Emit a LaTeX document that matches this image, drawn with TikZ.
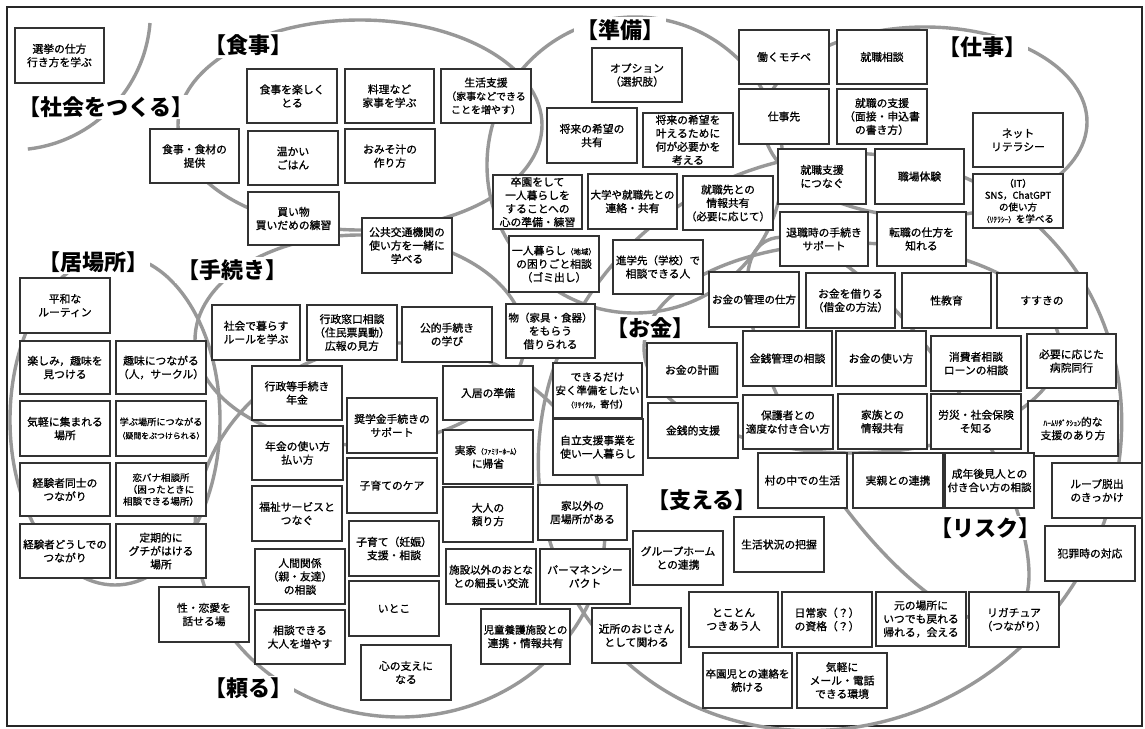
\documentclass[tikz,border=0pt]{standalone}
\usepackage{fontspec}
\setmainfont{Noto Sans CJK JP}
\newfontfamily\bxfont{Noto Sans CJK JP}[BoldFont={Noto Sans CJK JP},BoldFeatures={FakeBold=1.0}]
\definecolor{arcg}{RGB}{152,152,152}
\definecolor{boxc}{RGB}{50,50,50}
\newcommand\sm[1]{{\fontsize{7.5}{9}\selectfont #1}}
\newcommand\fs[2]{{\fontsize{#1}{13}\selectfont #2}}
\newcommand\bx[7][]{%
 \pgfmathsetmacro\mybw{#5-#3}\pgfmathsetmacro\mybh{#6-#4}%
 \pgfmathsetmacro\mybcx{(#3+#5)/2}\pgfmathsetmacro\mybcy{(#4+#6)/2}%
 \node[box,#1,minimum width=\mybw pt,minimum height=\mybh pt] (#2) at (\mybcx,\mybcy) {#7};}
\begin{document}
\begin{tikzpicture}[x=1pt,y=-1pt,
  arcst/.style={draw=arcg,line width=3.4pt},
  box/.style={draw=boxc,line width=1.2pt,fill=white,inner sep=0.5pt,align=center,
    font=\bxfont\bfseries\fontsize{10.8}{13.4}\selectfont},
  lab/.style={fill=white,inner sep=2pt,font=\fontsize{22}{24}\selectfont\bfseries}]
\useasboundingbox (0,0) rectangle (1145,728);
\fill[white] (0,0) rectangle (1145,728);
\draw[line width=1.2pt,black!85] (7,7) rectangle (1142,726);
% ellipses
\draw[arcst] (150,23) arc[start angle=-4.6,end angle=-83.6,radius=138pt];
\draw[arcst] (360,125) ellipse[x radius=182pt,y radius=105pt];
\draw[arcst] (635,165) ellipse[x radius=148pt,y radius=148pt];
\draw[arcst] (925,122) ellipse[x radius=162pt,y radius=95pt];
\draw[arcst] (115,420) ellipse[x radius=105pt,y radius=165pt];
\draw[arcst] (360,340) ellipse[x radius=165pt,y radius=105pt];
\draw[arcst] (400,530) ellipse[x radius=205pt,y radius=187pt];
\draw[arcst] (852,348) ellipse[x radius=208pt,y radius=105pt];
\draw[arcst,rotate around={40.6:(830,442)}] (830,442) ellipse[x radius=300pt,y radius=280pt];
\draw[arcst,rotate around={-56.5:(888,430)}] (888,430) ellipse[x radius=225pt,y radius=80pt];
% labels
\node[lab] (Lshakai) at (106,107) {【社会をつくる】};
\node[lab] (Lshoku) at (248,45) {【食事】};
\node[lab] (Ljunbi) at (620,30) {【準備】};
\node[lab] (Lshigoto) at (982,47) {【仕事】};
\node[lab] (Libasho) at (93,262) {【居場所】};
\node[lab] (Ltetsu) at (232,270) {【手続き】};
\node[lab] (Lokane) at (650,328) {【お金】};
\node[lab] (Lsasae) at (702,500) {【支える】};
\node[lab] (Lrisk) at (985,528) {【リスク】};
\node[lab] (Ltayoru) at (248,688) {【頼る】};
% boxes: name x1 y1 x2 y2
\bx{senkyo}{15}{28}{104}{83}{選挙の仕方\\行き方を学ぶ}
\bx{tanoshiku}{247}{69}{337}{123}{食事を楽しく\\とる}
\bx{ryouri}{345}{69}{434}{123}{料理など\\家事を学ぶ}
\bx{seikatsu}{441}{69}{531}{123}{生活支援\\\fs{10}{（家事などできる}\\\fs{10}{ことを増やす）}}
\bx{shokuzai}{150}{129}{239}{183}{食事・食材の\\提供}
\bx{atatakai}{248}{131}{338}{185}{温かい\\ごはん}
\bx{omiso}{345}{129}{435}{183}{おみそ汁の\\作り方}
\bx{kaimono}{248}{192}{339}{245}{買い物\\買いだめの練習}
\bx{koukyou}{362}{218}{452}{273}{公共交通機関の\\使い方を一緒に\\学べる}
\bx{option}{592}{48}{682}{102}{オプション\\（選択肢）}
\bx{kibou}{547}{108}{637}{163}{将来の希望の\\共有}
\bx{kanaeru}{643}{113}{733}{167}{将来の希望を\\叶えるために\\何が必要かを\\考える}
\bx{sotsuen}{493}{175}{582}{229}{卒園をして\\一人暮らしを\\することへの\\心の準備・練習}
\bx{daigaku}{588}{174}{677}{229}{\fs{10.5}{大学や就職先との}\\連絡・共有}
\bx{shushokusaki}{683}{176}{773}{230}{就職先との\\情報共有\\\fs{10.5}{（必要に応じて）}}
\bx{hitorigurashi}{509}{236}{599}{292}{一人暮らし\sm{（地域）}\\の困りごと相談\\（ゴミ出し）}
\bx{shingaku}{613}{240}{703}{294}{\fs{10.5}{進学先（学校）で}\\相談できる人}
\bx{mono}{506}{304}{595}{358}{\fs{10.5}{物（家具・食器）}\\をもらう\\借りられる}
\bx{motibe}{739}{30}{829}{84}{働くモチベ}
\bx{soudan}{837}{30}{927}{84}{就職相談}
\bx{shigotosaki}{739}{89}{829}{144}{仕事先}
\bx{shien}{837}{89}{927}{144}{就職の支援\\（面接・申込書\\の書き方）}
\bx{net}{973}{113}{1063}{167}{ネット\\リテラシー}
\bx[font=\bxfont\bfseries\fontsize{9.5}{11.8}\selectfont]{sns}{973}{174}{1063}{228}{（IT）\\SNS，ChatGPT\\の使い方\\\sm{（ﾘﾃﾗｼｰ）}を学べる}
\bx{tsunagu}{778}{149}{866}{204}{就職支援\\につなぐ}
\bx{taiken}{875}{149}{964}{204}{職場体験}
\bx{taishoku}{780}{212}{868}{266}{退職時の手続き\\サポート}
\bx{tenshoku}{877}{212}{966}{266}{転職の仕方を\\知れる}
\bx{kanri}{709}{272}{799}{327}{\fs{10.5}{お金の管理の仕方}}
\bx{kariru}{806}{273}{895}{328}{お金を借りる\\（借金の方法）}
\bx{seikyouiku}{902}{273}{991}{328}{性教育}
\bx{susukino}{997}{273}{1087}{328}{すすきの}
\bx{keikaku}{647}{343}{737}{397}{お金の計画}
\bx{kinsen}{743}{331}{832}{386}{金銭管理の相談}
\bx{tsukaikata}{836}{331}{926}{386}{お金の使い方}
\bx{shouhisha}{931}{336}{1021}{391}{消費者相談\\ローンの相談}
\bx{byouin}{1027}{334}{1116}{388}{必要に応じた\\病院同行}
\bx{yasuku}{553}{363}{642}{418}{できるだけ\\\fs{10.5}{安く準備をしたい}\\\sm{（ﾘｻｲｸﾙ，}\fs{9.5}{寄付）}}
\bx{kinsenteki}{648}{403}{738}{458}{金銭的支援}
\bx{hogosha}{743}{395}{833}{449}{保護者との\\\fs{10.5}{適度な付き合い方}}
\bx{kazoku}{838}{394}{927}{449}{家族との\\情報共有}
\bx{rousai}{931}{394}{1021}{449}{労災・社会保険\\そ知る}
\bx{harm}{1028}{401}{1118}{456}{\sm{ﾊｰﾑﾘﾀﾞｸｼｮﾝ}的な\\支援のあり方}
\bx{jiritsu}{553}{419}{643}{475}{自立支援事業を\\使い一人暮らし}
\bx{muranonaka}{758}{453}{847}{508}{村の中での生活}
\bx{jitsuoya}{853}{453}{943}{508}{実親との連携}
\bx{kouken}{945}{453}{1034}{508}{成年後見人との\\\fs{10.5}{付き合い方の相談}}
\bx{loop}{1052}{463}{1142}{518}{ループ脱出\\のきっかけ}
\bx{hanzai}{1045}{526}{1135}{581}{犯罪時の対応}
\bx{ligature}{969}{592}{1059}{647}{リガチュア\\（つながり）}
\bx{motono}{876}{592}{966}{646}{元の場所に\\いつでも戻れる\\帰れる，会える}
\bx{nichijou}{782}{592}{872}{647}{日常家（？）\\の資格（？）}
\bx{tokoton}{689}{592}{778}{647}{とことん\\つきあう人}
\bx{sotsuenji}{703}{653}{792}{708}{\fs{10.5}{卒園児との連絡を}\\続ける}
\bx{kigaru}{797}{653}{887}{708}{気軽に\\メール・電話\\できる環境}
\bx{haaku}{734}{517}{824}{572}{生活状況の把握}
\bx{group}{633}{531}{723}{585}{グループホーム\\との連携}
\bx{ieigai}{538}{485}{627}{540}{家以外の\\居場所がある}
\bx{permanency}{540}{549}{630}{604}{パーマネンシー\\パクト}
\bx{kinjo}{592}{608}{681}{663}{近所のおじさん\\として関わる}
\bx{jidou}{481}{609}{570}{664}{\fs{10.5}{児童養護施設との}\\連携・情報共有}
\bx{shisetsu}{446}{549}{536}{604}{\fs{10.5}{施設以外のおとな}\\との細長い交流}
\bx{otona}{443}{487}{533}{542}{大人の\\頼り方}
\bx{nyukyo}{443}{366}{533}{420}{入居の準備}
\bx{jikka}{443}{430}{533}{484}{実家\sm{（ﾌｧﾐﾘｰﾎｰﾑ）}\\に帰省}
\bx{kouteki}{402}{307}{492}{362}{公的手続き\\の学び}
\bx{gyousei}{307}{305}{397}{360}{行政窓口相談\\（住民票異動）\\広報の見方}
\bx{rule}{212}{305}{300}{360}{社会で暮らす\\ルールを学ぶ}
\bx{nenkin}{252}{366}{342}{420}{行政等手続き\\年金}
\bx{shougaku}{347}{398}{437}{453}{奨学金手続きの\\サポート}
\bx{nenkintsukai}{252}{426}{343}{480}{年金の使い方\\払い方}
\bx{kosodatecare}{347}{458}{437}{513}{子育てのケア}
\bx{fukushi}{252}{486}{342}{541}{福祉サービスと\\つなぐ}
\bx{ninshin}{349}{521}{439}{576}{子育て（妊娠）\\支援・相談}
\bx{ningen}{255}{549}{345}{604}{人間関係\\（親・友達）\\の相談}
\bx{itoko}{349}{581}{439}{636}{いとこ}
\bx{fuyasu}{255}{610}{345}{664}{相談できる\\大人を増やす}
\bx{kokoro}{361}{645}{451}{700}{心の支えに\\なる}
\bx{renai}{159}{587}{249}{642}{性・恋愛を\\話せる場}
\bx{heiwa}{20}{278}{110}{333}{平和な\\ルーティン}
\bx{shumi}{20}{341}{110}{394}{楽しみ，趣味を\\見つける}
\bx{shumitsunagu}{116}{341}{206}{394}{趣味につながる\\（人，サークル）}
\bx{kigarushu}{20}{401}{110}{456}{気軽に集まれる\\場所}
\bx{manabu}{116}{401}{206}{456}{\fs{9.2}{学ぶ場所につながる}\\\fs{7.9}{（疑問をぶつけられる）}}
\bx{keiken}{20}{463}{110}{516}{経験者同士の\\つながり}
\bx[font=\bxfont\bfseries\fontsize{9.5}{11.8}\selectfont]{koibana}{116}{463}{206}{516}{恋バナ相談所\\（困ったときに\\相談できる場所）}
\bx{keikendoushi}{20}{524}{110}{578}{\fs{10.5}{経験者どうしでの}\\つながり}
\bx{guchi}{116}{524}{206}{578}{定期的に\\グチがはける\\場所}
\end{tikzpicture}
\end{document}
